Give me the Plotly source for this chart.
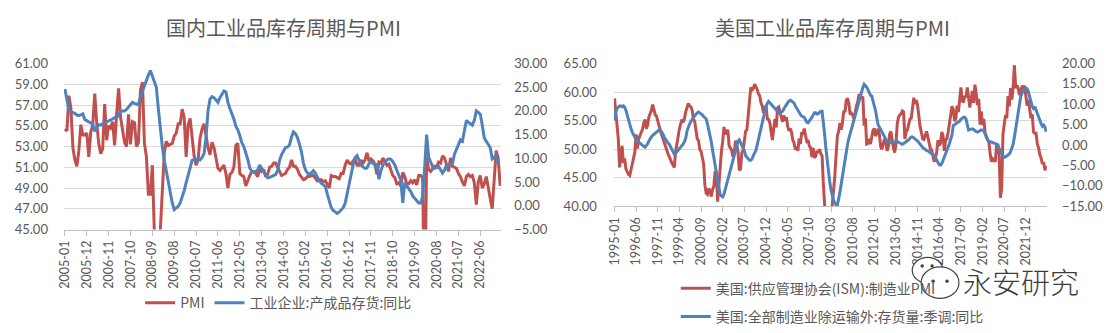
import pandas as pd
import plotly.graph_objects as go

# ---------------- China: manufacturing PMI vs finished-goods inventory YoY ----------------
cn_start = "2005-01"
cn_pmi = [
    54.7, 54.5, 57.9, 56.7, 52.9, 51.7, 51.1, 52.6, 55.1, 54.1, 54.1, 54.3,   # 2005
    52.0, 54.4, 55.1, 58.1, 55.3, 53.3, 52.3, 52.8, 57.1, 53.6, 55.0, 54.8,   # 2006
    55.4, 53.1, 56.1, 58.6, 55.8, 54.5, 53.4, 53.0, 56.1, 53.2, 55.4, 55.3,   # 2007
    53.0, 53.4, 58.4, 59.2, 53.3, 52.0, 48.4, 48.4, 51.2, 44.6, 38.8, 41.2,   # 2008
    45.3, 49.0, 52.4, 53.5, 53.1, 53.2, 53.3, 54.0, 54.3, 55.2, 55.2, 56.6,   # 2009
    55.8, 52.0, 55.1, 55.7, 53.9, 52.1, 51.2, 51.7, 53.8, 54.7, 55.2, 53.9,   # 2010
    52.9, 52.2, 53.4, 52.9, 52.0, 50.9, 50.7, 50.9, 51.2, 50.4, 49.0, 50.3,   # 2011
    50.5, 51.0, 53.1, 53.3, 50.4, 50.2, 50.1, 49.2, 49.8, 50.2, 50.6, 50.6,   # 2012
    50.4, 50.1, 50.9, 50.6, 50.8, 50.1, 50.3, 51.0, 51.1, 51.4, 51.4, 51.0,   # 2013
    50.5, 50.2, 50.3, 50.4, 50.8, 51.0, 51.7, 51.1, 51.1, 50.8, 50.3, 50.1,   # 2014
    49.8, 49.9, 50.1, 50.1, 50.2, 50.2, 50.0, 49.7, 49.8, 49.8, 49.6, 49.7,   # 2015
    49.4, 49.0, 50.2, 50.1, 50.1, 50.0, 49.9, 50.4, 50.4, 51.2, 51.7, 51.4,   # 2016
    51.3, 51.6, 51.8, 51.2, 51.2, 51.7, 51.4, 51.7, 52.4, 51.6, 51.8, 51.6,   # 2017
    51.3, 50.3, 51.5, 51.4, 51.9, 51.5, 51.2, 51.3, 50.8, 50.2, 50.0, 49.4,   # 2018
    49.5, 49.2, 50.5, 50.1, 49.4, 49.4, 49.7, 49.5, 49.8, 49.3, 50.2, 50.2,   # 2019
    50.0, 35.7, 52.0, 50.8, 50.6, 50.9, 51.1, 51.0, 51.5, 51.4, 52.1, 51.9,   # 2020
    51.3, 50.6, 51.9, 51.1, 51.0, 50.9, 50.4, 50.1, 49.6, 49.2, 50.1, 50.3,   # 2021
    50.1, 50.2, 49.5, 47.4, 49.6, 50.2, 49.0, 49.4, 50.1, 49.2, 48.0, 47.0,   # 2022
    50.1, 52.6, 51.9, 49.2,                                                   # 2023
]
cn_inventory = [
    24.6, 22.0, 20.3, 19.8, 19.6, 19.5, 19.1, 19.0, 19.2, 19.4, 18.2, 17.9,   # 2005
    17.7, 17.5, 17.2, 15.7, 16.6, 17.1, 17.0, 17.3, 17.5, 17.6, 17.8, 18.0,   # 2006
    18.3, 18.6, 18.7, 19.0, 19.9, 20.0, 20.0, 20.3, 20.8, 21.3, 21.8, 21.6,   # 2007
    21.5, 21.3, 23.0, 24.2, 25.5, 26.6, 27.6, 28.5, 27.3, 25.9, 25.0, 20.5,   # 2008
    16.3, 12.5, 9.6, 7.2, 4.5, 2.5, 0.6, -0.8, -0.5, -0.1, 0.6, 1.8,          # 2009
    3.2, 4.9, 6.5, 8.2, 9.6, 9.8, 9.7, 9.9, 9.7, 10.2, 11.0, 14.5,            # 2010
    20.0, 22.5, 23.0, 22.8, 22.3, 21.8, 22.8, 23.6, 24.2, 24.0, 21.8, 20.5,   # 2011
    19.5, 18.3, 16.8, 16.0, 14.8, 13.3, 12.5, 11.2, 9.8, 8.0, 7.3, 7.0,       # 2012
    7.2, 7.6, 8.6, 7.9, 7.2, 6.6, 5.9, 6.0, 6.2, 6.4, 6.6, 7.4,               # 2013
    9.6, 10.8, 11.6, 12.3, 12.4, 12.8, 14.5, 15.6, 15.2, 14.4, 13.0, 11.4,    # 2014
    9.0, 7.6, 6.9, 6.6, 6.9, 7.4, 6.9, 5.9, 5.2, 4.8, 4.4, 4.1,               # 2015
    2.5, 0.9, -0.4, -1.0, -1.4, -1.6, -1.3, -0.8, -0.4, 0.5, 2.5, 4.9,        # 2016
    7.0, 8.6, 10.2, 10.6, 9.6, 8.6, 8.2, 7.9, 8.0, 8.9, 9.3, 9.0,             # 2017
    8.6, 8.7, 5.6, 7.4, 8.6, 9.0, 9.7, 9.9, 9.8, 9.3, 8.6, 7.5,               # 2018
    6.6, 5.4, 0.6, 4.9, 4.2, 3.6, 3.0, 2.1, 1.6, 0.9, 0.6, 0.6,               # 2019
    2.0, 8.0, 15.0, 10.3, 9.0, 8.2, 7.9, 8.1, 8.3, 7.6, 6.9, 7.5,             # 2020
    8.6, 8.5, 8.7, 8.9, 10.9, 12.0, 13.0, 13.9, 13.6, 15.5, 18.0, 17.6,       # 2021
    17.2, 17.0, 18.0, 20.0, 19.7, 19.3, 17.0, 14.3, 13.6, 13.0, 12.3, 9.9,    # 2022
    10.3, 10.6, 8.9,                                                          # 2023
]

# ---------------- US: ISM manufacturing PMI vs manufacturing ex-transport inventories YoY ----------------
us_start = "1995-01"
us_ism = [
    58.9, 56.5, 53.0, 51.8, 46.8, 48.5, 50.6, 47.6, 48.4, 46.5, 45.9, 45.6,   # 1995
    45.4, 46.5, 47.6, 48.8, 49.5, 52.6, 50.1, 51.8, 52.4, 53.2, 53.5, 54.6,   # 1996
    55.2, 53.6, 54.2, 55.6, 56.2, 56.8, 57.8, 57.1, 56.0, 55.8, 54.6, 54.1,   # 1997
    53.2, 52.5, 51.9, 51.3, 50.2, 49.6, 49.2, 48.7, 48.0, 47.6, 47.2, 46.8,   # 1998
    49.6, 51.4, 52.2, 53.6, 54.3, 55.2, 54.7, 55.4, 56.6, 57.2, 58.0, 57.6,   # 1999
    57.4, 56.8, 55.3, 54.8, 53.2, 51.8, 51.5, 49.9, 49.6, 48.6, 47.4, 43.7,   # 2000
    42.3, 42.1, 43.1, 42.7, 41.7, 42.9, 43.5, 46.1, 45.9, 40.8, 44.1, 46.6,   # 2001
    49.7, 51.4, 53.9, 52.6, 53.1, 53.4, 50.6, 50.2, 49.8, 48.7, 49.2, 51.5,   # 2002
    50.8, 49.5, 46.3, 46.6, 49.4, 49.8, 51.6, 53.2, 53.4, 56.1, 59.2, 60.8,   # 2003
    60.4, 60.6, 61.4, 61.0, 60.5, 59.7, 59.4, 58.1, 57.6, 56.4, 56.8, 57.6,   # 2004
    55.3, 55.2, 54.6, 53.0, 51.6, 53.6, 55.3, 53.8, 57.2, 57.4, 56.7, 55.6,   # 2005
    54.8, 55.9, 55.0, 55.6, 54.0, 53.2, 53.6, 53.0, 51.6, 51.1, 49.9, 50.5,   # 2006
    49.7, 51.9, 50.9, 53.0, 52.6, 53.6, 52.4, 51.4, 51.6, 50.5, 50.3, 48.6,   # 2007
    50.2, 48.5, 48.8, 49.7, 49.4, 50.0, 49.2, 48.8, 43.9, 39.0, 36.4, 33.2,   # 2008
    35.3, 35.6, 36.3, 40.3, 42.5, 45.3, 48.9, 52.3, 53.1, 54.6, 53.4, 54.6,   # 2009
    56.7, 56.5, 58.6, 58.9, 58.0, 56.1, 56.3, 56.0, 55.3, 56.9, 57.6, 58.3,   # 2010
    59.6, 59.2, 59.0, 59.2, 54.1, 55.4, 50.9, 51.0, 51.8, 50.9, 52.2, 53.3,   # 2011
    53.6, 52.3, 52.8, 53.6, 52.6, 50.4, 50.0, 50.7, 51.8, 51.4, 49.7, 50.4,   # 2012
    52.6, 53.1, 51.5, 50.2, 49.4, 50.9, 54.4, 55.6, 56.0, 56.2, 56.7, 56.5,   # 2013
    51.8, 53.0, 53.4, 54.4, 55.3, 55.4, 56.8, 59.0, 57.9, 58.6, 57.6, 55.1,   # 2014
    53.9, 52.9, 51.8, 51.7, 52.5, 53.1, 52.2, 51.0, 50.1, 49.9, 48.6, 47.8,   # 2015
    48.5, 49.5, 51.6, 50.6, 51.1, 53.0, 52.3, 49.7, 51.7, 51.8, 53.0, 54.3,   # 2016
    56.0, 57.5, 57.0, 54.9, 55.4, 57.6, 56.5, 58.6, 60.8, 58.5, 58.2, 59.3,   # 2017
    59.1, 60.8, 59.3, 57.3, 58.7, 60.2, 58.1, 61.3, 59.8, 57.7, 58.8, 54.3,   # 2018
    56.6, 54.2, 55.3, 52.8, 52.1, 51.7, 51.2, 49.1, 47.8, 48.3, 48.1, 47.8,   # 2019
    50.9, 50.1, 49.1, 41.5, 43.1, 52.6, 54.2, 56.0, 55.4, 59.3, 57.5, 60.7,   # 2020
    58.7, 60.8, 64.7, 60.7, 61.2, 60.6, 59.5, 59.9, 61.1, 60.8, 61.1, 58.8,   # 2021
    57.6, 58.6, 57.1, 55.4, 56.1, 53.0, 52.8, 52.8, 50.9, 50.2, 49.0, 48.4,   # 2022
    47.4, 47.7, 46.3, 47.1,                                                   # 2023
]
us_inventory = [
    6.0, 8.2, 9.0, 9.3, 9.6, 9.6, 9.4, 9.6, 9.3, 8.5, 7.2, 6.2,               # 1995
    5.0, 4.0, 3.2, 2.5, 1.8, 1.3, 1.0, 0.7, 0.5, 0.2, 0.0, -0.3,              # 1996
    -0.5, -0.2, 0.3, 1.0, 1.6, 2.0, 2.4, 2.7, 2.9, 3.2, 3.5, 3.7,             # 1997
    3.7, 3.3, 2.7, 2.0, 1.4, 0.8, 0.5, 0.2, -0.4, -1.0, -1.6, -2.2,           # 1998
    -2.0, -1.6, -1.3, -1.0, -0.6, -0.2, 0.3, 0.9, 1.8, 3.5, 4.5, 5.2,         # 1999
    5.8, 6.4, 6.8, 7.2, 7.6, 7.9, 8.1, 7.9, 7.7, 7.4, 7.0, 6.7,               # 2000
    6.4, 5.2, 3.9, 2.6, 0.8, -1.2, -3.2, -5.2, -7.0, -9.0, -11.1, -12.2,      # 2001
    -12.5, -12.7, -12.0, -10.8, -9.6, -8.4, -7.0, -5.8, -4.5, -3.2, -2.0, -0.8,  # 2002
    0.4, 1.0, 1.3, 0.6, 0.2, -0.4, -1.4, -2.6, -3.0, -3.4, -3.7, -3.7,        # 2003
    -3.4, -2.6, -1.9, -1.3, 0.0, 1.3, 2.7, 4.0, 5.6, 7.2, 8.6, 9.5,           # 2004
    10.2, 10.7, 10.4, 10.0, 9.6, 9.2, 8.9, 8.5, 8.1, 7.9, 8.1, 8.3,           # 2005
    8.3, 8.9, 9.5, 10.0, 10.4, 10.8, 11.0, 10.8, 10.5, 10.3, 9.6, 9.0,        # 2006
    8.4, 7.9, 7.5, 7.1, 6.9, 6.8, 6.2, 5.6, 5.5, 5.9, 6.4, 6.8,               # 2007
    7.4, 7.9, 7.9, 7.6, 7.7, 8.0, 8.3, 8.3, 6.0, 2.6, -0.8, -4.0,             # 2008
    -6.8, -9.0, -11.0, -12.5, -13.5, -14.2, -14.6, -14.7, -13.5, -11.6, -9.6, -7.4,  # 2009
    -5.3, -3.4, -1.5, 0.2, 1.6, 2.8, 4.0, 5.2, 6.4, 7.6, 8.8, 9.9,            # 2010
    11.0, 12.0, 13.0, 14.1, 14.9, 14.6, 14.2, 13.6, 12.8, 12.2, 12.0, 11.0,   # 2011
    9.7, 8.4, 6.6, 5.0, 4.4, 3.8, 3.3, 2.9, 2.3, 1.6, 0.9, 0.7,               # 2012
    0.6, 0.6, 0.6, 0.7, 0.8, 0.9, 0.9, 0.7, 0.5, 0.3, 0.2, 0.4,               # 2013
    0.6, 0.8, 0.9, 1.3, 1.7, 2.0, 2.0, 1.8, 1.6, 1.3, 1.0, 0.6,               # 2014
    0.3, -0.2, -0.6, -0.9, -1.1, -1.3, -1.4, -1.6, -1.8, -2.0, -2.2, -2.6,    # 2015
    -3.1, -3.7, -4.3, -4.8, -4.9, -4.5, -3.7, -2.9, -2.1, -1.3, -0.6, 0.4,    # 2016
    1.5, 2.5, 4.8, 5.0, 5.2, 5.4, 5.6, 5.9, 6.3, 6.6, 6.8, 6.8,               # 2017
    6.4, 5.0, 3.7, 3.8, 3.9, 4.0, 3.8, 3.5, 3.3, 3.2, 3.4, 3.6,               # 2018
    3.7, 3.7, 3.4, 2.8, 2.0, 1.3, 1.0, 0.8, 0.7, 0.6, 0.5, 0.4,               # 2019
    0.2, 0.1, -0.8, -1.8, -2.2, -2.6, -3.0, -2.9, -2.6, -2.4, -2.2, -1.6,     # 2020
    -0.8, 0.2, 2.0, 4.2, 6.4, 8.6, 11.0, 12.0, 12.8, 13.4, 13.8, 14.0,        # 2021
    13.8, 13.0, 11.8, 10.5, 9.5, 9.0, 9.4, 8.6, 7.6, 6.6, 5.8, 5.2,           # 2022
    4.6, 4.9, 4.4, 3.3,                                                       # 2023
]

cn_months = pd.period_range(cn_start, periods=len(cn_pmi), freq="M").strftime("%Y-%m").tolist()
us_months = pd.period_range(us_start, periods=len(us_ism), freq="M").strftime("%Y-%m").tolist()

RED = "#C0504D"
BLUE = "#4F81BD"
GRID = "#D9D9D9"
TEXT = "#595959"
NUM_FONT = "Lato, 'Liberation Sans', sans-serif"
CJK_FONT = "'Noto Sans CJK SC', sans-serif"

W, H = 1108, 333


def px_x(x):
    return x / W


def px_y(y):
    return 1 - y / H


fig = go.Figure()

fig.add_trace(go.Scatter(x=cn_months, y=cn_pmi, name="PMI", mode="lines",
                         line=dict(color=RED, width=3), xaxis="x", yaxis="y",
                         legend="legend"))
fig.add_trace(go.Scatter(x=cn_months[:len(cn_inventory)], y=cn_inventory,
                         name="工业企业:产成品存货:同比", mode="lines",
                         line=dict(color=BLUE, width=3), xaxis="x", yaxis="y2",
                         legend="legend"))

fig.add_trace(go.Scatter(x=us_months, y=us_ism, name="美国:供应管理协会(ISM):制造业PMI",
                         mode="lines", line=dict(color=RED, width=3),
                         xaxis="x2", yaxis="y3", legend="legend2", legendgroup="a"))
fig.add_trace(go.Scatter(x=us_months[:len(us_inventory)], y=us_inventory,
                         name="美国:全部制造业除运输外:存货量:季调:同比", mode="lines",
                         line=dict(color=BLUE, width=3), xaxis="x2", yaxis="y4",
                         legend="legend2", legendgroup="b"))

tick_font = dict(family=NUM_FONT, size=13, color=TEXT)
xtick_font = dict(family=NUM_FONT, size=12.5, color=TEXT)

left_dom_x = [px_x(57.3), px_x(497.3)]
right_dom_x = [px_x(610.7), px_x(1046.5)]
left_dom_y = [px_y(232.7), px_y(58.3)]
right_dom_y = [px_y(208.3), px_y(58.3)]

xcommon = dict(type="category", showgrid=False, zeroline=False, showline=True,
               linecolor="#BFBFBF", linewidth=1, ticks="outside", ticklen=5,
               tickcolor="#BFBFBF", tickangle=-90, tickfont=xtick_font)

fig.update_layout(
    width=W, height=H, autosize=False,
    margin=dict(l=0, r=0, t=0, b=0),
    paper_bgcolor="white", plot_bgcolor="white",
    xaxis=dict(domain=left_dom_x, anchor="y", range=[-0.5, len(cn_months) - 0.5],
               tickmode="array", tickvals=cn_months[::11], ticktext=cn_months[::11], **xcommon),
    yaxis=dict(domain=left_dom_y, anchor="x", range=[45, 61], dtick=2, tick0=45,
               tickformat=".2f", showgrid=True, gridcolor=GRID, gridwidth=1,
               zeroline=False, showline=False, tickfont=tick_font, ticklabelstandoff=15),
    yaxis2=dict(overlaying="y", anchor="x", side="right", range=[-5, 30], dtick=5,
                tick0=-5, tickformat=".2f", showgrid=False, zeroline=False,
                showline=False, tickfont=tick_font, ticklabelstandoff=12),
    xaxis2=dict(domain=right_dom_x, anchor="y3", range=[-0.5, len(us_months) - 0.5],
                tickmode="array", tickvals=us_months[::17], ticktext=us_months[::17], **xcommon),
    yaxis3=dict(domain=right_dom_y, anchor="x2", range=[40, 65], dtick=5, tick0=40,
                tickformat=".2f", showgrid=True, gridcolor=GRID, gridwidth=1,
                zeroline=False, showline=False, tickfont=tick_font, ticklabelstandoff=16),
    yaxis4=dict(overlaying="y3", anchor="x2", side="right", range=[-15, 20], dtick=5,
                tick0=-15, tickformat=".2f", showgrid=False, zeroline=False,
                showline=False, tickfont=tick_font, ticklabelstandoff=14),
    legend=dict(orientation="h", x=px_x(134), y=px_y(310), xanchor="left", yanchor="middle",
                font=dict(family=CJK_FONT, size=14, color=TEXT), bgcolor="rgba(0,0,0,0)",
                itemwidth=30),
    legend2=dict(orientation="v", x=px_x(673), y=px_y(278), xanchor="left", yanchor="top",
                 font=dict(family=CJK_FONT, size=14, color=TEXT), bgcolor="rgba(0,0,0,0)",
                 itemwidth=30, tracegroupgap=7),
    showlegend=True,
)

# Chart titles
for cx, title in [(278, "国内工业品库存周期与PMI"), (831, "美国工业品库存周期与PMI")]:
    fig.add_annotation(x=px_x(cx), y=px_y(20), xref="paper", yref="paper",
                       text=title, showarrow=False, xanchor="center", yanchor="middle",
                       font=dict(family=CJK_FONT, size=20, color=TEXT))

# WeChat-style badge with account name
def circ(x0, y0, x1, y1, fill="white", lw=1.2):
    fig.add_shape(type="circle", xref="paper", yref="paper",
                  x0=px_x(x0), x1=px_x(x1), y0=px_y(y1), y1=px_y(y0),
                  line=dict(color="#444444", width=lw), fillcolor=fill, layer="above")

circ(911, 262, 942, 289)
circ(920, 272, 958, 305)
for ex, ey in [(921, 271), (931, 271)]:
    circ(ex - 1.5, ey - 1.5, ex + 1.5, ey + 1.5, fill="#444444", lw=0.5)
for ex, ey in [(932, 287), (946, 287)]:
    circ(ex - 1.5, ey - 1.5, ex + 1.5, ey + 1.5, fill="#444444", lw=0.5)

fig.add_annotation(x=px_x(1020), y=px_y(287), xref="paper", yref="paper",
                   text="永安研究", showarrow=False, xanchor="center", yanchor="middle",
                   font=dict(family=CJK_FONT, size=29, color="#3C3C3C", weight=300))

fig.write_html("out.html")
